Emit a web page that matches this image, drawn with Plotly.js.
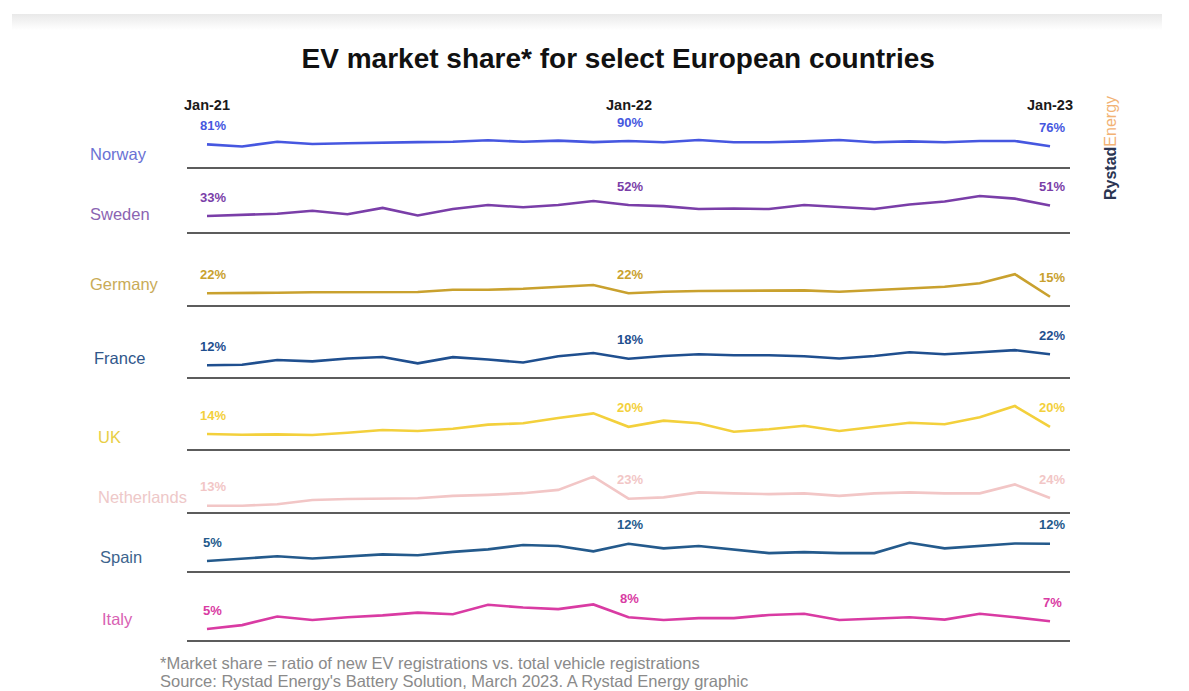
<!DOCTYPE html>
<html>
<head>
<meta charset="utf-8">
<script src="https://cdn.plot.ly/plotly-3.0.1.min.js"></script>
<style>
  html, body { margin: 0; padding: 0; background: #ffffff; }
  #band { position: absolute; left: 12px; top: 14px; width: 1150px; height: 16px;
          background: linear-gradient(#e9e9e9, #ffffff); }
  #chart { position: absolute; left: 0; top: 0; width: 1189px; height: 691px; }
</style>
</head>
<body>
<div id="band"></div>
<div id="chart"></div>
<script>
// ---------- DATA ----------
var months = ["Jan-21","Feb-21","Mar-21","Apr-21","May-21","Jun-21","Jul-21","Aug-21","Sep-21","Oct-21","Nov-21","Dec-21",
              "Jan-22","Feb-22","Mar-22","Apr-22","May-22","Jun-22","Jul-22","Aug-22","Sep-22","Oct-22","Nov-22","Dec-22","Jan-23"];
var countries = ["Norway","Sweden","Germany","France","UK","Netherlands","Spain","Italy"];
var norway      = [81,75,88,82,84,86.5,87,88,92,88,91,87,90,86.5,92.7,86.5,86.5,89,92.7,86.5,89,86.5,90,90,76];
var sweden      = [33,35,37,42,36,47,34,45,52,48,52,59,52,50,45,46,45,52,48.5,45,53,58,67.5,63,51];
var germany     = [22,22,23.2,24,24,24,24.6,29.3,29.3,31.3,35.5,39,22,25.3,26.7,26.7,26.7,28,25.3,28.7,32,35.5,42.4,61,15];
var france      = [12,12.5,16.8,15.6,18.2,19.6,13.8,19.4,17.3,14.5,20.2,23.2,18,20.5,22,21.2,21.2,20.2,18.2,20.5,23.8,22,23.8,25.8,22];
var uk          = [14,13.4,13.7,13.2,15.1,17.3,16.5,18.4,21.8,22.9,27.3,31.2,20,25.1,22.9,15.9,17.9,20.9,16.5,20.1,23.4,22.1,27.9,37.3,20];
var netherlands = [13,13,15,21.1,22.6,23.6,23.6,27,28.4,30.9,35.6,54.6,23,24.9,32,30.6,29.6,30.6,27.1,30.6,32,30.6,30.6,43.4,24];
var spain       = [5,5.8,6.9,6,6.7,7.7,7.3,8.7,9.7,11.5,11.1,8.9,12,10.1,11.1,9.5,8.2,8.6,8.2,8.2,12.4,10.1,11.2,12.1,12];
var italy       = [5,6,8.2,7.3,8,8.5,9.2,8.8,11.2,10.5,10.1,11.3,8,7.3,7.8,7.8,8.6,8.9,7.3,7.6,8,7.4,8.9,8,7];
var series = [norway, sweden, germany, france, uk, netherlands, spain, italy];
var headerLabels = ["Jan-21","Jan-22","Jan-23"];
var labelIdx = [0, 12, 24];

// ---------- STYLE / LAYOUT CONFIG ----------
var lineColors  = ["#4657e0","#7a3ea8","#c9a12e","#1f4f8f","#f3d03c","#f2c6c6","#245a8c","#d93ba3"];
var nameColors  = ["#6a72d4","#8b64b2","#c9ab58","#30568a","#e8ce45","#eec8c8","#3d648d","#d862b3"];
var nameX       = [88, 88, 88, 92, 96, 96, 98, 100];       // px, left edge of country name
var nameY       = [154, 214, 284, 358, 437, 497, 557, 619]; // px, centre of country name
// row bands (px) and per-row scale calibration
var bandTop = [95, 168, 233, 306, 378, 450, 513, 572];
var bandBot = [168, 233, 306, 378, 450, 513, 572, 641];
var refVal  = [90, 52, 22, 12, 14, 13, 5, 5];
var refPx   = [141, 205, 293.3, 365.3, 434, 505.7, 561, 629];
var pxPerPt = [0.37, 0.58, 0.49, 1.1, 1.2, 0.7, 2.47, 3.9];

var W = 1189, H = 691;
var M = {l: 187, r: 119, t: 95, b: 46};
var plotW = W - M.l - M.r, plotH = H - M.t - M.b;
function py(px) { return (H - M.b - px) / plotH; }
function pxX(px) { return (px - M.l) / plotW; }

var traces = [];
var layout = {
  width: W, height: H,
  margin: M,
  paper_bgcolor: "rgba(0,0,0,0)",
  plot_bgcolor: "rgba(0,0,0,0)",
  showlegend: false,
  font: {family: "Liberation Sans, Arial, sans-serif"},
  title: {
    text: "<b>EV market share* for select European countries</b>",
    font: {size: 28, color: "#111111", family: "Liberation Sans, Arial, sans-serif"},
    x: 0.52, xref: "container", xanchor: "center",
    y: 1 - 58 / H, yref: "container", yanchor: "middle"
  },
  xaxis: {type: "category", visible: false, range: [-0.569, 24.569], fixedrange: true},
  shapes: [],
  annotations: []
};

series.forEach(function (vals, i) {
  var axName = i === 0 ? "yaxis" : "yaxis" + (i + 1);
  var axRef = i === 0 ? "y" : "y" + (i + 1);
  var vBot = refVal[i] - (bandBot[i] - refPx[i]) / pxPerPt[i];
  var vTop = refVal[i] + (refPx[i] - bandTop[i]) / pxPerPt[i];
  layout[axName] = {domain: [py(bandBot[i]), py(bandTop[i])], range: [vBot, vTop],
                    visible: false, fixedrange: true, anchor: "x"};
  traces.push({
    type: "scatter", mode: "lines", x: months, y: vals, xaxis: "x", yaxis: axRef,
    line: {color: lineColors[i], width: 2.6}, name: countries[i], hoverinfo: "x+y+name"
  });
  // value labels
  labelIdx.forEach(function (k, j) {
    layout.annotations.push({
      x: months[k], y: vals[k], xref: "x", yref: axRef, yanchor: "middle",
      text: "<b>" + Math.round(vals[k]) + "%</b>", showarrow: false,
      yshift: 19, xshift: j === 0 ? 6 : (j === 1 ? 1 : 2),
      font: {size: 13, color: lineColors[i]}
    });
  });
  // country name
  layout.annotations.push({
    x: pxX(nameX[i]), y: py(nameY[i]), xref: "paper", yref: "paper",
    xanchor: "left", yanchor: "middle", showarrow: false,
    text: countries[i], font: {size: 16.5, color: nameColors[i]}
  });
  // separator line
  layout.shapes.push({
    type: "line", xref: "paper", yref: "paper", x0: 0, x1: 1,
    y0: py(bandBot[i]), y1: py(bandBot[i]),
    line: {color: "#5c5c5c", width: 1.8}
  });
});

// month headers
headerLabels.forEach(function (m) {
  layout.annotations.push({
    x: m, y: py(105), xref: "x", yref: "paper", yanchor: "middle", showarrow: false,
    text: "<b>" + m + "</b>", font: {size: 14.5, color: "#1a1a1a"}
  });
});

// logo
layout.annotations.push({
  x: pxX(1111), y: py(148), xref: "paper", yref: "paper", xanchor: "center", yanchor: "middle",
  showarrow: false, textangle: -90,
  text: "<b>Rystad</b><span style='color:#f2b274'>Energy</span>",
  font: {size: 16, color: "#2b3552"}
});

// footnotes
layout.annotations.push({
  x: pxX(158), y: py(663), xref: "paper", yref: "paper", xanchor: "left", yanchor: "middle",
  showarrow: false, text: "*Market share = ratio of new EV registrations vs. total vehicle registrations",
  font: {size: 16.5, color: "#8a8a8a"}
});
layout.annotations.push({
  x: pxX(158), y: py(681), xref: "paper", yref: "paper", xanchor: "left", yanchor: "middle",
  showarrow: false, text: "Source: Rystad Energy's Battery Solution, March 2023. A Rystad Energy graphic",
  font: {size: 16.5, color: "#8a8a8a"}
});

Plotly.newPlot("chart", traces, layout, {displayModeBar: false, staticPlot: true});
</script>
</body>
</html>
